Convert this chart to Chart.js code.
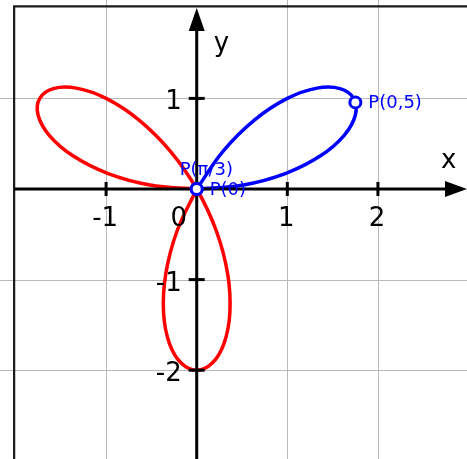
<!DOCTYPE html>
<html>
<head>
<meta charset="utf-8">
<script src="https://cdn.jsdelivr.net/npm/chart.js@4/dist/chart.umd.min.js"></script>
<style>
  html, body { margin: 0; padding: 0; background: #fff; }
  #plot { display: block; }
</style>
</head>
<body>
<canvas id="plot" width="467" height="459"></canvas>
<script>
// rose r = 2 sin(3t), sampled every 5 degrees
// blue leaf: t from 0 to pi/3
const blueX = [0, 0.5157, 0.9848, 1.3660, 1.6276, 1.7509, 1.7321, 1.5825, 1.3268, 1.0, 0.6428, 0.2969, 0];
const blueY = [0, 0.0451, 0.1736, 0.3660, 0.5924, 0.8164, 1.0, 1.1081, 1.1133, 1.0, 0.7660, 0.4240, 0];

// red part: t from pi/3 to pi (lower leaf, then upper-left leaf)
const redX = [0, -0.2188, -0.3420, -0.3660, -0.3008, -0.1684, 0, 0.1684, 0.3008, 0.3660, 0.3420, 0.2188, 0,
              -0.2969, -0.6428, -1.0, -1.3268, -1.5825, -1.7321, -1.7509, -1.6276, -1.3660, -0.9848, -0.5157, 0];
const redY = [0, -0.4691, -0.9397, -1.3660, -1.7057, -1.9245, -2.0, -1.9245, -1.7057, -1.3660, -0.9397, -0.4691, 0,
              0.4240, 0.7660, 1.0, 1.1133, 1.1081, 1.0, 0.8164, 0.5924, 0.3660, 0.1736, 0.0451, 0];

// marked points on the curve
const markerNames = ['P(0)', 'P(0,5)', 'P(π/3)'];
const markerX = [0, 1.751, 0];
const markerY = [0, 0.956, 0];

// axis ticks
const xTicks = [-1, 1, 2];
const yTicks = [1, -1, -2];
const gridX = [-1, 1, 2];
const gridY = [1, -1, -2];

const zip = (xs, ys) => xs.map((x, i) => ({ x: x, y: ys[i] }));

const FONT = '"DejaVu Sans", Verdana, sans-serif';

// grid, frame, axes with arrows, ticks and labels
const axesPlugin = {
  id: 'axesPlugin',
  beforeDatasetsDraw(chart) {
    const ctx = chart.ctx;
    const sx = chart.scales.x, sy = chart.scales.y;
    ctx.save();
    ctx.strokeStyle = '#b8b8b8';
    ctx.lineWidth = 1;
    gridX.forEach(v => {
      const px = Math.round(sx.getPixelForValue(v)) + 0.5;
      ctx.beginPath(); ctx.moveTo(px, 0); ctx.lineTo(px, chart.height); ctx.stroke();
    });
    gridY.forEach(v => {
      const py = Math.round(sy.getPixelForValue(v)) + 0.5;
      ctx.beginPath(); ctx.moveTo(0, py); ctx.lineTo(chart.width, py); ctx.stroke();
    });
    // frame (left and top)
    const fx = sx.getPixelForValue(-2.015), fy = sy.getPixelForValue(2.015);
    ctx.strokeStyle = '#1a1a1a';
    ctx.lineWidth = 2.2;
    ctx.beginPath();
    ctx.moveTo(fx, chart.height); ctx.lineTo(fx, fy); ctx.lineTo(chart.width, fy);
    ctx.stroke();
    ctx.restore();
  },
  beforeDatasetDraw(chart, args) {
    if (args.index !== 2) return;
    const ctx = chart.ctx;
    const sx = chart.scales.x, sy = chart.scales.y;
    const ox = sx.getPixelForValue(0), oy = sy.getPixelForValue(0);
    const fx = sx.getPixelForValue(-2.015);
    ctx.save();
    ctx.strokeStyle = '#000';
    ctx.fillStyle = '#000';
    ctx.lineWidth = 3;
    // x axis
    ctx.beginPath(); ctx.moveTo(fx, oy); ctx.lineTo(chart.width - 18, oy); ctx.stroke();
    ctx.beginPath();
    ctx.moveTo(chart.width, oy); ctx.lineTo(chart.width - 22, oy - 8); ctx.lineTo(chart.width - 22, oy + 8);
    ctx.closePath(); ctx.fill();
    // y axis
    ctx.beginPath(); ctx.moveTo(ox, chart.height); ctx.lineTo(ox, 28); ctx.stroke();
    ctx.beginPath();
    ctx.moveTo(ox, 8); ctx.lineTo(ox - 8, 31); ctx.lineTo(ox + 8, 31);
    ctx.closePath(); ctx.fill();
    // tick marks
    xTicks.forEach(v => {
      const px = sx.getPixelForValue(v);
      ctx.beginPath(); ctx.moveTo(px, oy - 7); ctx.lineTo(px, oy + 7); ctx.stroke();
    });
    yTicks.forEach(v => {
      const py = sy.getPixelForValue(v);
      ctx.beginPath(); ctx.moveTo(ox - 8, py); ctx.lineTo(ox + 8, py); ctx.stroke();
    });
    // tick labels
    ctx.font = '26px ' + FONT;
    ctx.textBaseline = 'alphabetic';
    ctx.textAlign = 'center';
    xTicks.forEach(v => {
      ctx.fillText(String(v), sx.getPixelForValue(v) - 1, oy + 37);
    });
    ctx.fillText('0', ox - 18, oy + 37);
    ctx.textAlign = 'right';
    yTicks.forEach(v => {
      ctx.fillText(String(v), ox - 15, sy.getPixelForValue(v) + 11);
    });
    // axis names
    ctx.textAlign = 'left';
    ctx.fillText('x', 441, oy - 21);
    ctx.fillText('y', ox + 17, 51);
    ctx.restore();
  },
  afterDatasetsDraw(chart) {
    const ctx = chart.ctx;
    const sx = chart.scales.x, sy = chart.scales.y;
    const offsets = [[13, 1], [13, 1], [-17, -19]];
    ctx.save();
    ctx.font = '18px ' + FONT;
    ctx.fillStyle = '#0000ff';
    ctx.textAlign = 'left';
    ctx.textBaseline = 'middle';
    markerNames.forEach((name, i) => {
      const px = sx.getPixelForValue(markerX[i]), py = sy.getPixelForValue(markerY[i]);
      ctx.fillText(name, px + offsets[i][0], py + offsets[i][1]);
    });
    ctx.restore();
  }
};

new Chart(document.getElementById('plot'), {
  type: 'scatter',
  data: {
    datasets: [
      {
        data: zip(blueX, blueY),
        showLine: true,
        borderColor: '#0000ff',
        borderWidth: 3.5,
        pointRadius: 0,
        tension: 0.4,
        order: 2
      },
      {
        data: zip(redX, redY),
        showLine: true,
        borderColor: '#ff0000',
        borderWidth: 3.5,
        pointRadius: 0,
        tension: 0.4,
        order: 3
      },
      {
        data: zip(markerX, markerY),
        showLine: false,
        pointRadius: 5.5,
        pointBorderWidth: 3,
        pointBorderColor: '#0000ff',
        pointBackgroundColor: '#ffffff',
        order: 1
      }
    ]
  },
  options: {
    responsive: false,
    animation: false,
    layout: { padding: 0, autoPadding: false },
    plugins: { legend: { display: false }, tooltip: { enabled: false } },
    scales: {
      x: { type: 'linear', display: false, min: -2.171, max: 2.983 },
      y: { type: 'linear', display: false, min: -2.980, max: 2.086 }
    }
  },
  plugins: [axesPlugin]
});
</script>
</body>
</html>
